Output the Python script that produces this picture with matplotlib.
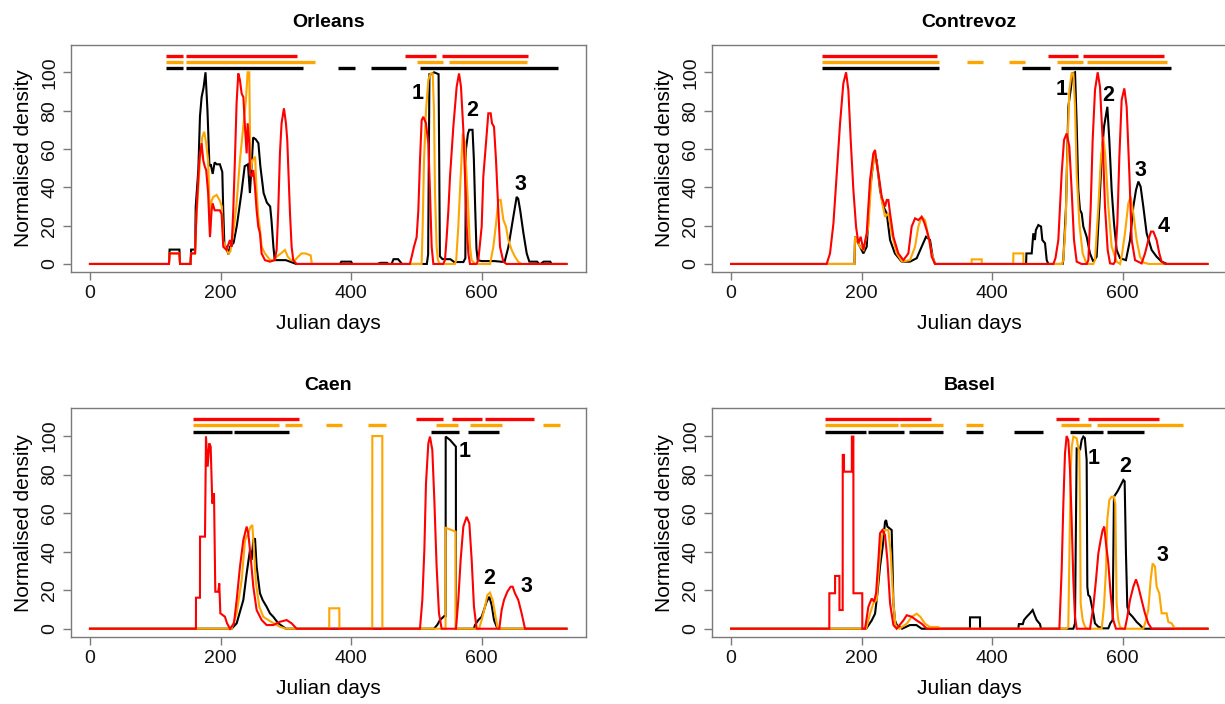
import matplotlib
matplotlib.use('Agg')
import matplotlib.pyplot as plt

plt.rcParams['font.family'] = ['Liberation Sans', 'DejaVu Sans']

# ---------------- data ----------------
PANELS = ["Orleans", "Contrevoz", "Caen", "Basel"]
XTICKS = [0, 200, 400, 600]
YTICKS = [0, 20, 40, 60, 80, 100]

# Orleans
ORL_BLACK_X = [0,121,122,137,138,154,155,161,162,166,168.5,171,174,177,180,183,185,188,191,194,199,202.7,204,206,209,212,214.5,220,225,232,237,242,245,248,250,254,258,261,266,271,276,278,281,283,300,316,383,385,400,402,440,445,455,457,462,465,472,478,516,518,520,523,527,534,536,540,552,558,572,575,576,579,581,586,588,590,592,594,600,620,635,641,648.5,653.6,656,659,664,669,673,685,688,690,695,705,707,730]
ORL_BLACK_Y = [0,0,7.5,7.5,0,0,7.5,7.5,30,49,77,87,92,100,80,51,52,47,53,52,52,48,30,9,9,5,9,11,20,37,51,52,37,54,66,65,63,51,37,32,30,23,9,2,2,0,0,1.2,1.2,0,0,0.6,0.6,0,0,2.5,2.5,0,0,5,99,99,100,99,4,2.5,2.5,1,1,3,60,68,70,70,55,30,8,2,1.5,1.5,1,9,24.6,35,34,28,16,5.5,1.2,1.2,0,0,1.2,1.2,0,0]
ORL_ORANGE_X = [0,121,122,137,138,154,155,161,162.3,168.5,172,175,178,181,182.5,184,186.3,189,194,199,202,204.2,207,212,215,219.5,224.6,229.7,234.8,238.9,241.5,244,245,246,249,253,255,257.8,260,263,268,276,282,286,292.5,298.7,303,308,314,319,324,330,338,340,508,509.6,511.7,514.7,518.3,521.9,525,527,528.5,531,533,536,559,561,564.2,567.8,571,574.5,577,579.6,582.1,584.6,590,612.8,614,617.9,622,625.5,629.1,633.2,637.3,640.8,646,651,656,661,730]
ORL_ORANGE_Y = [0,0,5.5,5.5,0,0,5.5,5.5,19.5,54,66,69,63,54,37,16,33,35,36,33,30,12,9,5.5,6.5,16,31.6,54,71.6,85.5,100,100,71.6,49,54,56,40,24.6,19.5,9,5.5,2,2,3.8,5.5,7.3,3.8,2,2,3.8,5.5,5.5,4.5,0,0,19.5,54,80,96,99.4,99.4,80,37,9,2,0,0,2,19.5,45.5,68,63,45.5,28,9,2,0,0,2,9,21,33.4,33.4,23,19.5,12.5,7.3,3.8,1.2,0,0]
ORL_RED_X = [0,121,122,137,138,154,155,161,163.3,167.4,171,173.6,176,178,181,183.8,186.3,188,191,199,201.6,204.2,209,214.4,217,219.5,222,224.6,227.2,229.7,232.3,235,237.4,240,241.5,244,245,247.6,250.2,252.7,255.3,257.8,260.4,262.9,268,275.7,283,285.9,288.4,291,293.5,297.1,300.2,302.2,304.3,306.4,308.9,311.4,316.5,490,492.8,496.3,500.4,503,505.5,508.1,510.6,514.7,518.3,520.9,523.4,526,541,543.8,546.4,549,551.5,556.6,561.7,565.3,568.3,571.9,574.5,577,579.6,582.1,592,594.9,600,602.5,606.6,610.2,613.8,615.8,618.9,622,625.5,628.1,633.2,638,730]
ORL_RED_Y = [0,0,5.5,5.5,0,0,5.5,5.5,28,54,63,54,50.7,49,37,14,28,31.6,28,28,26,9,7.3,12.5,9,28,54,84,99.4,96,89,87,71.6,57.7,73.4,63,47.3,45.5,49,40.3,28,19.5,16,5.5,2,1.2,2,7.3,28,57.7,73.4,81.2,73.4,64.7,45.5,26.4,9,2,0,0,3.8,9,14,28,54,75,76.8,73.4,63,37,9,0,0,2,14,28,45.5,71.6,92.5,99.4,92.5,70,45.5,19.5,5.5,0,0,2,19.5,45.5,63,78.6,78.6,73.4,71.6,54,28,9,1.2,0,0]

# Contrevoz
CON_BLACK_X = [0,189,190,197.6,202.7,207.8,212.9,219,223.1,228.2,233.4,238.5,243.6,251,261.4,274,284.4,292,298.7,304.8,308.9,312.5,452,452.5,460.6,463.1,465.5,467,470.8,474.9,476.9,481,483.6,486.1,508,509,513.2,516.7,520.3,523.4,527,529.5,532,534.6,537.2,539.7,544.8,549.9,555,560.1,564.2,567.8,571.4,576.5,579.5,583.1,586.7,590.8,595.9,605,611.2,616.3,620.4,624,627.5,631.6,636.7,644.4,652,659.7,668,730]
CON_BLACK_Y = [0,0,14.2,9,5.5,9,38.6,56.8,54.2,38.6,29.9,26.4,12.5,5.5,1.2,1.2,3,9,14.2,12.5,3.8,0,0,5.5,5.5,16,12.5,17.7,20.3,19.5,12.5,10.8,2,0,0,2,29.9,82,90.8,99.5,100,73.4,38.6,28.2,26.4,19.5,14.2,5.5,1.2,3.8,29.9,56,71.6,82,64.7,38.6,21.2,7.3,3,2,12.5,29.9,38.6,43,40.3,29.9,16,7.3,3.8,1.2,0,0]
CON_ORANGE_X = [0,189,190,197.6,203,210.4,215.5,220.6,224,230.8,235.9,241,246.1,253.8,262,274.2,281.9,286.9,292,297.2,302.3,307.4,312.5,368.5,368.7,384,384.2,432.3,432.5,447.8,448,507,509,512.6,515.7,518.3,521.8,524.4,527,529.5,533.6,538.7,544.8,555,557.6,562.7,566.8,570.3,573.5,578,583.1,590.8,596,598.4,603.5,608.6,612.2,616.3,621.4,626.5,632,640,730]
CON_ORANGE_Y = [0,0,14.2,9,7.3,19.5,47.3,57.7,50.8,33.4,24.6,26.4,16,5.5,1.2,2,9,19.5,24.6,22.9,14.2,5.5,0,0,2.4,2.4,0,0,5.5,5.5,0,0,2,21.2,64.7,90.8,99.5,99.5,82,47.3,21.2,5.5,0,0,2,29.9,56,66.4,56,29.9,9,1.2,0,3.8,16,31.6,35,26.4,12.5,3.8,0.7,0,0]
CON_RED_X = [0,146.5,151.6,156.8,161.9,167,172,176.2,179.7,183.3,187.4,191.5,195,198.6,202.7,207.8,212.9,218,220.6,223.1,227.2,230.8,235.9,238.5,241,243.6,248.7,256.3,264,271.6,276.7,281.9,287,292,295.6,299.7,303.8,307.4,312.5,493.8,497,501.4,506.5,510.1,514.2,518.3,521.8,525.4,529.5,537,545,547.4,551,554,557.6,561.7,565.2,569.3,572.9,577,580.6,586,588.2,591.8,594.9,598.4,602.5,606.1,610.2,613.8,618.9,629,634.2,639.3,643.4,647,652,656.1,659.7,664.8,730]
CON_RED_Y = [0,0,5.5,21,47,73.4,94.2,100,90.8,64.7,38.6,19.5,10.8,14.2,7.3,16,43.8,57.7,59.5,52.5,43.8,35,29.9,33.4,33.4,26.4,14.2,5.5,2,5.5,19.5,23.8,22.9,24.6,22,17.7,12.5,3.8,0,0,3,12.5,47.3,64.7,68.1,61.2,38.6,12.5,1.2,0,0,2,29.9,64.7,90.8,100,92.5,64.7,29.9,7.3,0.3,0,1.2,21.2,56,85.5,91.6,82,47.3,12.5,2,0.3,5.5,12.5,16.9,16.9,12.5,5.5,1.2,0,0]

# Caen
CAE_BLACK_X = [0,217,224.7,234.9,240,245.1,247.6,250.2,252.8,255.3,260.4,264.5,270.6,275.7,280.8,288.5,297.2,300,527,532,536.1,542.8,544.8,544.9,551.5,560.5,560.6,588,589.8,594.9,600,603.5,607.6,611.7,615.3,618.9,623,626,730]
CAE_BLACK_Y = [0,0,2.8,14.9,28.7,40.8,35.7,46,46.9,32.2,18.4,14.9,11.4,8,6.2,2.8,0.7,0,0,2,4.5,6.6,6.6,99.7,98,94.5,0,0,1.9,4.5,6.2,9.7,14,16.6,12.3,4.5,1,0,0]
CAE_ORANGE_X = [0,217,224.7,232.4,237.5,242.5,246.1,248.7,251.2,254.3,259.4,265.5,273.2,280,291,300,366.5,366.6,382,382.1,432.4,432.5,447.8,447.9,544.7,544.8,560.1,560.2,596,600,605.1,608.7,612.7,616.8,620.4,624,626,730]
CAE_ORANGE_Y = [0,0,8,25.3,46,49.5,53,53.8,40.8,23.5,11.4,6.2,4.5,3.1,1,0,0,10.6,10.6,0,0,100,100,0,0,52.4,50.4,0,0,4.5,11.4,17.5,18.7,14.9,8,1,0,0]
CAE_RED_X = [0,162.3,162.4,168.5,168.6,176.2,177.7,180.3,182.8,184.9,187.4,190,192,196.6,198.1,199.7,206.8,210,214.5,220.6,224.7,229.8,234.9,240,242.5,246.1,250.2,255.3,263,270.6,280.8,291,301.3,308.9,316.6,505.5,509.1,512.2,514.7,518.3,520.8,524.4,527.5,531,534.6,538.7,560.7,564.2,567.8,571.9,577,581.1,584.7,588.2,592.3,627,630.6,634.2,639.3,644.4,647.5,651,656.1,661.2,666.4,730]
CAE_RED_Y = [0,0,16.1,16.1,47.8,47.8,99.7,84.1,96.2,94.5,65,70.3,19.2,19.2,23.5,8,6.2,2.8,0,2.8,14.9,32.2,46,53,49.5,37.4,21.8,9.7,4.5,1.9,1.9,3.6,4.5,2.8,0,0,14.9,40.8,75.4,96.2,99.7,92.8,66.8,32.2,8,0,0,14.9,35.7,53,58.1,54.7,35.7,11.4,0,0,9.7,14.9,19.2,21.8,21.8,18.4,14.9,8,0,0]

# Basel
BAS_BLACK_X = [0,207,215.5,220.6,224.2,228.2,232.3,235.9,237.5,239.5,246.1,248.7,251.2,254,262,274,284,292,366,366.1,381.4,381.5,440,441,447,448.8,452.9,458,462.1,465,468.2,473.3,474.9,524.4,526.9,529.5,532,534.6,537.1,539.7,542,544.8,545.8,547.3,549.9,552.4,555,557.5,562.7,570,578,581,584.6,586.6,591.7,595.8,601,603,605,607.1,610.1,615.2,621.4,626.5,631.6,730]
BAS_BLACK_Y = [0,0,4.3,7.8,18.3,32.2,42.6,55.5,56.4,53,51.2,13.2,4.3,1.9,0,1.9,1.9,0,0,5.9,5.9,0,0,2.4,2.4,4.5,6.2,8,9.7,7.1,4.5,2.4,0,0,2.8,93.6,93.6,92.7,97.9,99.7,99,87.5,21.8,17.5,16.6,12.3,8,2.8,1,0.2,0.2,2.8,4.5,68.5,71.1,73.7,77.2,76.5,39.1,11.4,8,6.2,3.5,1.9,0,0]
BAS_ORANGE_X = [0,207,213,218,223.1,226.7,230.8,234.4,241,244.6,248.7,252,258,269.1,276.8,284.4,290,297.2,304.8,317.6,320,514,516.7,520.3,522,524.4,529.5,532,533.5,534.6,535.6,538.7,542.2,546,567.8,571.3,574.4,576.4,579.5,583.1,586.6,588.7,590.7,593.3,595.8,600,631.6,635.7,639.2,642.8,645.9,649.5,652,656.1,659.7,667.3,669.9,675,680.1,730]
BAS_ORANGE_Y = [0,0,7.8,13.2,14.9,32.2,47.8,51.2,51.2,39.1,13.2,1.9,0,2.6,6.2,7.8,6.2,2.6,0.9,0.9,0,0,1,82.4,94.5,99.7,98.8,93.6,92.7,65,13.2,4.5,1,0,0,11.4,30.5,56.4,66.8,68.5,68.5,65,13.2,4.5,1,0,0,4.5,9.7,25.3,33.9,32.2,21.8,18.3,8,8,3.5,2.8,0,0]
BAS_RED_X = [0,150.5,150.6,159.3,159.4,166,166.1,171,171.1,173,173.1,185,185.1,187.4,187.5,201,201.1,205.3,210.4,215.5,219,222.1,225.7,228.2,231.8,235.9,239.5,243.6,248.7,253.8,264,269.1,276.8,284.4,292.1,300,503,506.5,509.1,511.6,514.1,516.7,519.3,521.8,524.4,526.9,529.5,549.9,555,559.1,562.7,566.2,569.3,571.8,574.4,578,581.5,585.6,589.7,603.5,607.1,611.2,616.3,620.4,624,629,634.1,639.2,644.4,730]
BAS_RED_Y = [0,0,18.4,18.4,27.4,27.4,9.7,9.7,90.2,90.2,81.5,81.5,99.7,99.7,18.4,18.4,0,0,11.4,15.7,14,18.3,35.6,49.5,51.2,48.6,35.6,13.2,1.9,0,4.3,7,6.2,4.3,2.6,0,0,30.5,65,91,100,97.9,82.4,56.4,25.3,6.2,0,0,11.4,25.3,39.1,46,51.2,53,44.3,33.9,18.3,4.5,0,0,6.2,14.9,21.8,25.6,21.8,14.9,8,2.8,0,0]

# period bars: (start, end) in Julian days
ORL_BAR_RED = [(116, 142), (147, 316.6), (482.5, 530), (538.7, 671.4)]
ORL_BAR_ORANGE = [(116, 142), (147, 344.7), (500.4, 540.2), (550, 670)]
ORL_BAR_BLACK = [(116, 142), (147, 325.8), (379.4, 406), (430.5, 484), (505.5, 717.4)]
CON_BAR_RED = [(138.9, 316), (486, 531), (538.7, 663.8)]
CON_BAR_ORANGE = [(138.9, 319), (362, 386.5), (426.3, 450.4), (498.9, 539.7), (544.8, 667.4)]
CON_BAR_BLACK = [(138.9, 319), (446.3, 488.6), (505.5, 673.5)]
CAE_BAR_RED = [(157.3, 320.2), (498.9, 540.2), (554, 600), (605, 680)]
CAE_BAR_ORANGE = [(157.3, 289.5), (298.7, 325.3), (361, 386.5), (426.4, 452.9), (529.5, 564.2), (582.1, 630.6), (693.4, 720)]
CAE_BAR_BLACK = [(157.3, 218), (220.6, 304.9), (521.9, 565.2), (579.5, 626.5)]
BAS_BAR_RED = [(144, 305.9), (497.3, 533.6), (547.4, 656.1)]
BAS_BAR_ORANGE = [(144, 256.3), (258.9, 324.2), (359.5, 386.5), (505, 551), (560.1, 691.9)]
BAS_BAR_BLACK = [(144, 206.3), (209.3, 265), (272.1, 324.2), (359.5, 385.5), (434, 478.4), (519.3, 569.3), (575.4, 633.2)]
BAR_LEVELS = {"black": 102.2, "orange": 105.5, "red": 108.7}

# peak labels: (text, x, y)
ORL_LABELS = [("1", 501.5, 89), ("2", 586, 80.3), ("3", 658.7, 41.2)]
CON_LABELS = [("1", 506.5, 90.8), ("2", 578, 88), ("3", 627.5, 49), ("4", 662.3, 19.5)]
CAE_LABELS = [("1", 574.5, 91.9), ("2", 611.7, 26.1), ("3", 668.9, 21.8)]
BAS_LABELS = [("1", 556, 88.4), ("2", 603.5, 84.1), ("3", 661.2, 38.2)]

# ---------------- drawing ----------------
COLORS = {"black": "#000000", "orange": "#FFA500", "red": "#FF0000"}

series = {
    "Orleans": {"black": (ORL_BLACK_X, ORL_BLACK_Y), "orange": (ORL_ORANGE_X, ORL_ORANGE_Y), "red": (ORL_RED_X, ORL_RED_Y)},
    "Contrevoz": {"black": (CON_BLACK_X, CON_BLACK_Y), "orange": (CON_ORANGE_X, CON_ORANGE_Y), "red": (CON_RED_X, CON_RED_Y)},
    "Caen": {"black": (CAE_BLACK_X, CAE_BLACK_Y), "orange": (CAE_ORANGE_X, CAE_ORANGE_Y), "red": (CAE_RED_X, CAE_RED_Y)},
    "Basel": {"black": (BAS_BLACK_X, BAS_BLACK_Y), "orange": (BAS_ORANGE_X, BAS_ORANGE_Y), "red": (BAS_RED_X, BAS_RED_Y)},
}
bars = {
    "Orleans": {"black": ORL_BAR_BLACK, "orange": ORL_BAR_ORANGE, "red": ORL_BAR_RED},
    "Contrevoz": {"black": CON_BAR_BLACK, "orange": CON_BAR_ORANGE, "red": CON_BAR_RED},
    "Caen": {"black": CAE_BAR_BLACK, "orange": CAE_BAR_ORANGE, "red": CAE_BAR_RED},
    "Basel": {"black": BAS_BAR_BLACK, "orange": BAS_BAR_ORANGE, "red": BAS_BAR_RED},
}
labels = {"Orleans": ORL_LABELS, "Contrevoz": CON_LABELS, "Caen": CAE_LABELS, "Basel": BAS_LABELS}

W, H = 1225, 704
fig = plt.figure(figsize=(W / 100, H / 100), dpi=100)
fig.patch.set_facecolor("white")

# axes boxes in pixels (left, right, top, bottom)
boxes = {
    "Orleans": (70.9, 585.6, 44.7, 272.4),
    "Contrevoz": (712.0, 1226.6, 44.7, 272.4),
    "Caen": (70.9, 585.6, 408.3, 637.2),
    "Basel": (712.0, 1226.6, 408.3, 637.2),
}

for name in PANELS:
    l, r, t, b = boxes[name]
    ax = fig.add_axes([l / W, 1 - b / H, (r - l) / W, (b - t) / H])
    for col in ["black", "orange", "red"]:
        xs, ys = series[name][col]
        ax.plot(xs, ys, color=COLORS[col], lw=1.5, solid_joinstyle="miter")
    for col in ["black", "orange", "red"]:
        for (s, e) in bars[name][col]:
            ax.plot([s, e], [BAR_LEVELS[col]] * 2, color=COLORS[col], lw=2.4,
                    solid_capstyle="butt")
    for (txt, x, y) in labels[name]:
        ax.text(x, y, txt, fontsize=15.5, fontweight="bold", ha="center", va="center")

    ax.set_xlim(-29.2, 759.2)
    ax.set_ylim(-4.4, 114.4)
    ax.set_xticks(XTICKS)
    ax.set_yticks(YTICKS)
    for sp in ax.spines.values():
        sp.set_color("#7a7a7a")
        sp.set_linewidth(1.0)
    ax.tick_params(axis="both", length=6, width=1, color="#7a7a7a",
                   labelsize=14, pad=3, labelcolor="#111111")
    ax.tick_params(axis="y", labelrotation=90)
    for lab in ax.get_yticklabels():
        lab.set_va("center")
    ax.set_xlabel("Julian days", fontsize=15, labelpad=9)
    ax.set_ylabel("Normalised density", fontsize=15, labelpad=6)
    ax.set_title(name, fontsize=14, fontweight="bold", pad=13)

fig.savefig("out.png", dpi=100)
